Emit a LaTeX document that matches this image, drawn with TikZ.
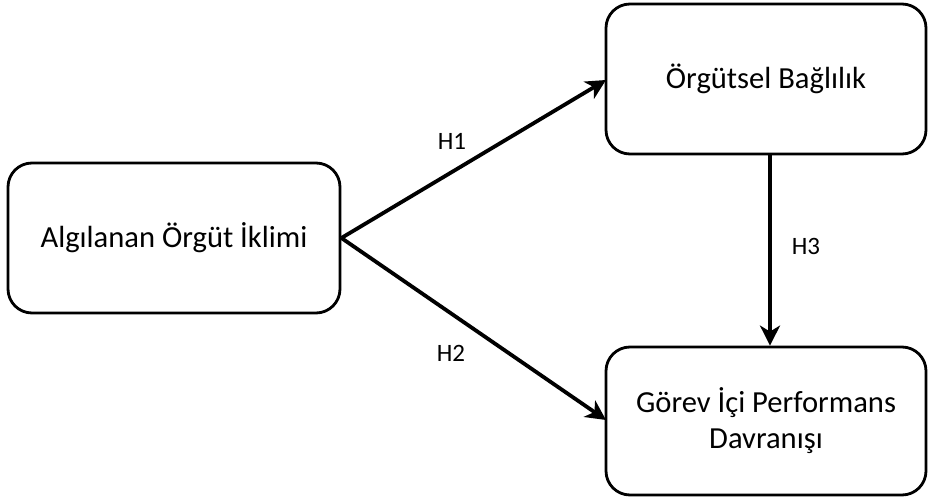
\documentclass[tikz,border=0pt]{standalone}
\usepackage{fontspec}
\setmainfont{Carlito}
\usetikzlibrary{arrows.meta}
\begin{document}
\begin{tikzpicture}[x=1pt,y=-1pt,
  box/.style={draw, line width=2.8pt, rounded corners=24pt, align=center, font=\fontsize{30.6}{36}\selectfont, inner sep=0pt},
  conn/.style={line width=3.8pt, -{Stealth[length=20pt,width=20pt,inset=6pt]}},
  lbl/.style={font=\fontsize{25}{30}\selectfont}]
\useasboundingbox (0,0) rectangle (928,497);
\node[box, minimum width=332pt, minimum height=150pt] (a) at (174,238) {Algılanan Örgüt İklimi};
\node[box, minimum width=320pt, minimum height=150pt] (b) at (766,79) {Örgütsel Bağlılık};
\node[box, minimum width=320pt, minimum height=148pt] (c) at (766,421) {Görev İçi Performans\\Davranışı};
\coordinate (b1) at (606,80);
\coordinate (c1) at (606,420);
\draw[conn] (a.east) -- (b1);
\draw[conn] (a.east) -- (c1);
\draw[conn] (b.south -| 770,0) -- (c.north -| 770,0);
\node[lbl] (h1) at (452,141) {H1};
\node[lbl] (h2) at (451,353) {H2};
\node[lbl] (h3) at (806,246) {H3};
\end{tikzpicture}
\end{document}
